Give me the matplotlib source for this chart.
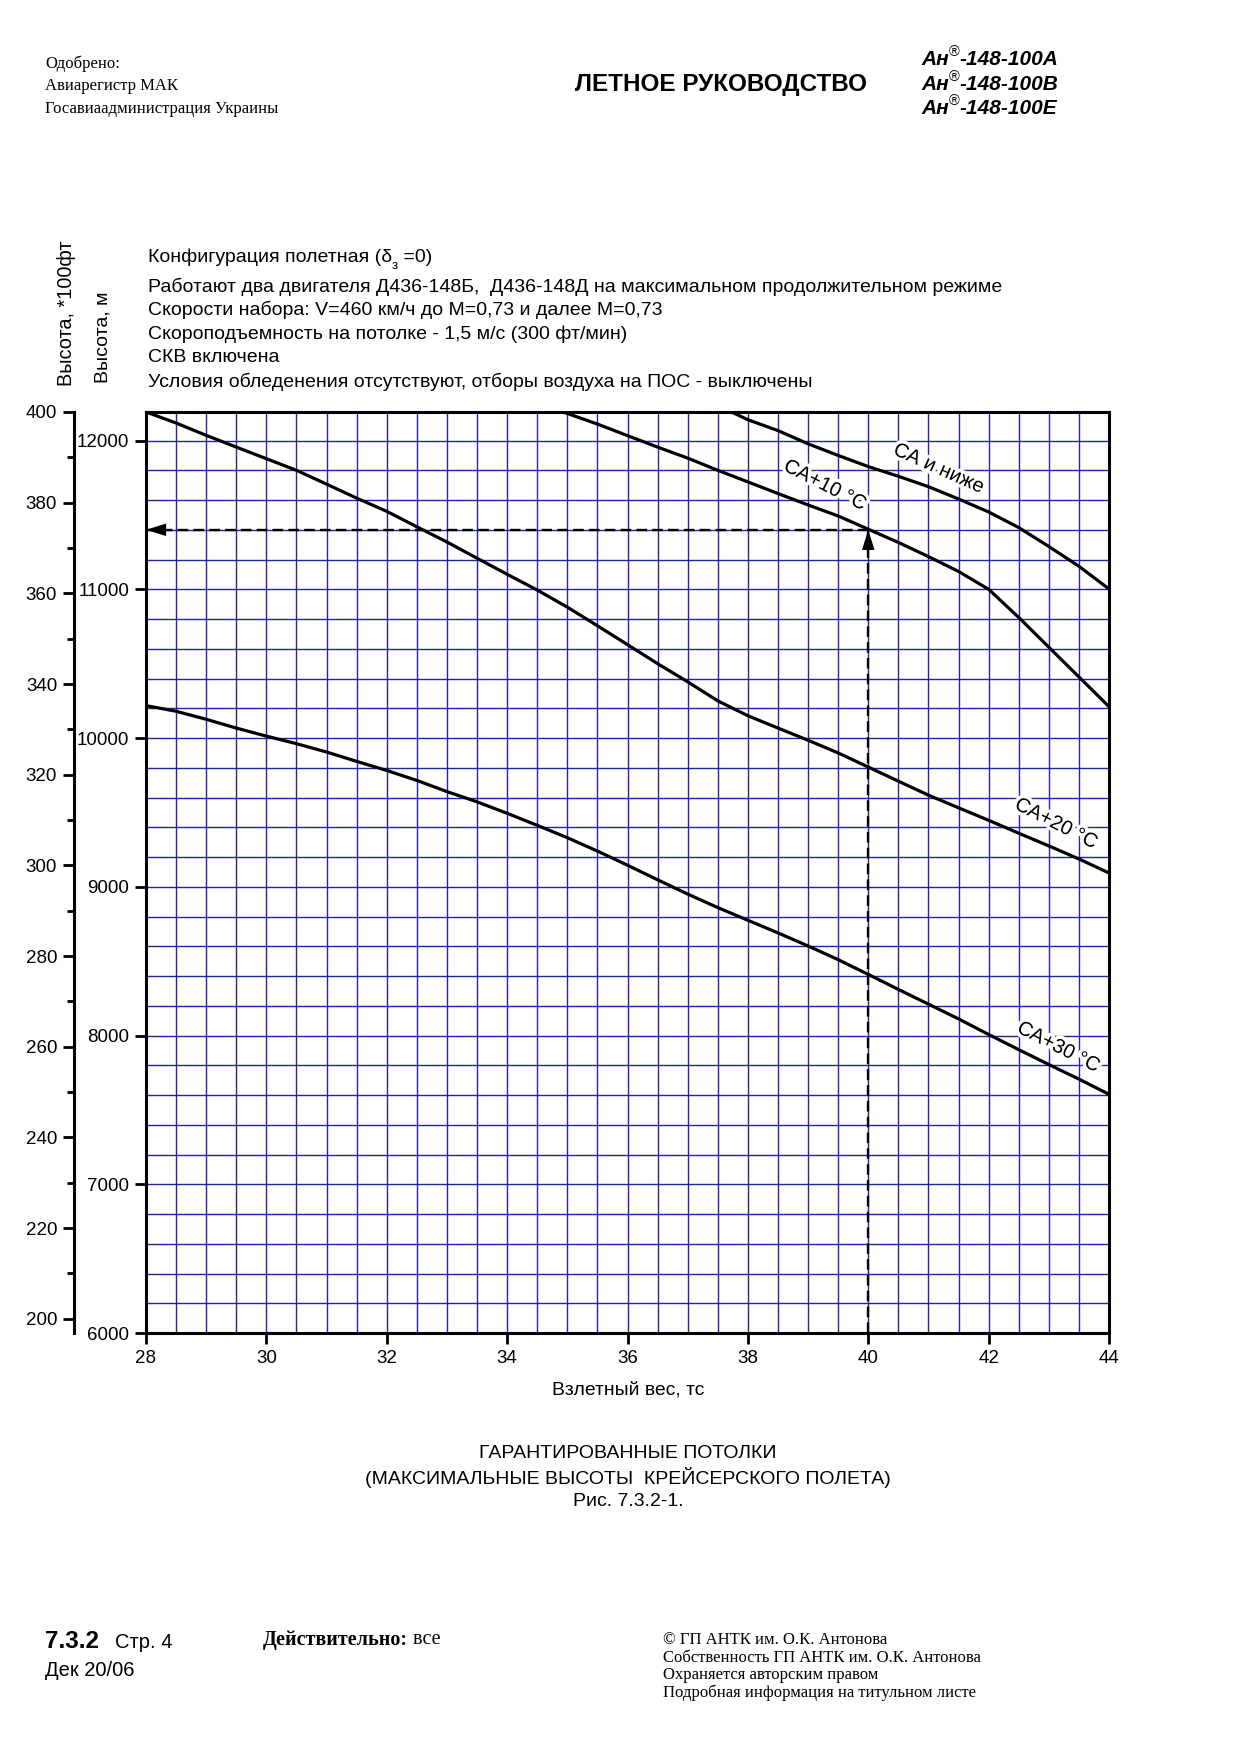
import matplotlib
matplotlib.use('Agg')
import matplotlib.pyplot as plt
import matplotlib.patheffects as pe
import numpy as np

plt.rcParams['font.family'] = ['Liberation Sans', 'DejaVu Sans']

# ---------------- data (take-off weight, t  ->  ceiling, m) ----------------
isa_w = [37.73, 38.0, 38.5, 39.0, 39.5, 40.0, 40.5, 41.0, 41.5, 42.0, 42.5, 43.0, 43.5, 44.0]
isa_h = [12192, 12140, 12067, 11978, 11900, 11825, 11760, 11690, 11607, 11520, 11415, 11288, 11155, 11002]

isa10_w = [34.93, 35.5, 36.0, 36.5, 37.0, 37.5, 38.0, 38.5, 39.0, 39.5, 40.0, 40.5, 41.0, 41.5,
           42.0, 42.5, 43.0, 43.5, 44.0]
isa10_h = [12192, 12111, 12033, 11956, 11882, 11800, 11722, 11644, 11567, 11493, 11404, 11315, 11220,
           11120, 11000, 10811, 10611, 10411, 10211]

isa20_w = [28.0, 28.5, 29.0, 29.5, 30.0, 30.5, 31.0, 31.5, 32.0, 32.5, 33.0, 33.5, 34.0, 34.5, 35.0,
           35.5, 36.0, 36.5, 37.0, 37.5, 38.0, 38.5, 39.0, 39.5, 40.0, 40.5, 41.0, 41.5, 42.0, 42.5,
           43.0, 43.5, 44.0]
isa20_h = [12192, 12118, 12035, 11956, 11878, 11800, 11707, 11613, 11524, 11420, 11318, 11209, 11101,
           10995, 10880, 10755, 10628, 10500, 10378, 10250, 10150, 10067, 9985, 9900, 9805, 9710,
           9616, 9531, 9447, 9360, 9275, 9187, 9093]

isa30_w = [28.0, 28.5, 29.0, 29.5, 30.0, 30.5, 31.0, 31.5, 32.0, 32.5, 33.0, 33.5, 34.0, 34.5, 35.0,
           35.5, 36.0, 36.5, 37.0, 37.5, 38.0, 38.5, 39.0, 39.5, 40.0, 40.5, 41.0, 41.5, 42.0, 42.5,
           43.0, 43.5, 44.0]
isa30_h = [10218, 10180, 10126, 10067, 10013, 9962, 9906, 9843, 9782, 9715, 9640, 9571, 9494, 9413,
           9330, 9240, 9145, 9047, 8951, 8860, 8775, 8690, 8602, 8510, 8411, 8310, 8211, 8112, 8007,
           7905, 7805, 7707, 7605]

curve_labels = ['СА и ниже', 'СА+10 °С', 'СА+20 °С', 'СА+30 °С']

ref_weight = 40.0
ref_height = 11400

x_ticks = [28, 30, 32, 34, 36, 38, 40, 42, 44]
m_ticks = [6000, 7000, 8000, 9000, 10000, 11000, 12000]
ft_ticks = [200, 220, 240, 260, 280, 300, 320, 340, 360, 380, 400]

info_lines = [
    'Работают два двигателя Д436-148Б,  Д436-148Д на максимальном продолжительном режиме',
    'Скорости набора: V=460 км/ч до М=0,73 и далее М=0,73',
    'Скороподъемность на потолке - 1,5 м/с (300 фт/мин)',
    'СКВ включена',
    'Условия обледенения отсутствуют, отборы воздуха на ПОС - выключены',
]

# ---------------- figure ----------------
W, H = 1240, 1755
fig = plt.figure(figsize=(W / 100, H / 100), dpi=100)

# page overlay in pixel coordinates
bg = fig.add_axes([0, 0, 1, 1])
bg.set_xlim(0, W)
bg.set_ylim(H, 0)
bg.axis('off')

L, R, T, B = 146, 1109, 412, 1333
rect = [L / W, 1 - B / H, (R - L) / W, (B - T) / H]
ax = fig.add_axes(rect)
ax.set_xlim(28, 44)
ax.set_ylim(6000, 12192)
ax.set_xticks(x_ticks)
ax.set_xticks(np.arange(28, 44.01, 0.5), minor=True)
ax.set_yticks(m_ticks)
ax.set_yticks(np.arange(6000, 12192, 200), minor=True)
ax.grid(which='both', color='#2222a6', lw=1.0)
ax.set_axisbelow(True)
ax.tick_params(which='minor', length=0)
ax.tick_params(which='major', direction='out', length=8, width=2, labelsize=13.5, pad=4)
for s in ax.spines.values():
    s.set_linewidth(2.2)
    s.set_zorder(5)

# feet scale
ax2 = fig.add_axes(rect)
ax2.patch.set_visible(False)
ax2.xaxis.set_visible(False)
ax2.set_ylim(6000 / 30.48, 12192 / 30.48)
for s in ['right', 'top', 'bottom']:
    ax2.spines[s].set_visible(False)
ax2.spines['left'].set_position(('outward', 52))
ax2.spines['left'].set_linewidth(2.2)
ax2.set_yticks(ft_ticks)
ax2.set_yticks(np.arange(210, 400, 20), minor=True)
ax2.tick_params(which='major', direction='out', length=8, width=2, labelsize=13.5, pad=4)
ax2.tick_params(which='minor', direction='out', length=5, width=2)

# curves
lw = 2.3
for w, h in [(isa_w, isa_h), (isa10_w, isa10_h), (isa20_w, isa20_h), (isa30_w, isa30_h)]:
    ax.plot(w, h, color='black', lw=lw, zorder=3, solid_joinstyle='round')

# curve labels
halo = [pe.withStroke(linewidth=5, foreground='white')]
label_pos = [(41.17, 11812, -24), (39.28, 11700, -27), (43.12, 9425, -27), (43.16, 7922, -27)]
for txt, (lx, ly, rot) in zip(curve_labels, label_pos):
    ax.text(lx, ly, txt, rotation=rot, rotation_mode='anchor', ha='center', va='center',
            fontsize=14.5, zorder=2.5, path_effects=halo)

# example (dashed lines with arrows)
dash_kw = dict(color='black', lw=1.7, dashes=(4.5, 2.2), zorder=4)
ax.plot([ref_weight, ref_weight], [6000, ref_height], **dash_kw)
ax.plot([28, ref_weight], [ref_height, ref_height], **dash_kw)
arrow_kw = dict(arrowstyle='-|>,head_length=1.45,head_width=0.45', color='black', lw=0,
                mutation_scale=10, shrinkA=0, shrinkB=0)
ax.annotate('', xy=(ref_weight, ref_height), xytext=(0, -20), textcoords='offset points',
            arrowprops=arrow_kw, zorder=6)
ax.annotate('', xy=(28, ref_height), xytext=(20, 0), textcoords='offset points',
            arrowprops=arrow_kw, zorder=6, annotation_clip=False)

# axis titles
bg.text(628, 1390, 'Взлетный вес, тс', ha='center', va='center', fontsize=13.9)
bg.text(67, 386, 'Высота, *100фт', rotation=90, ha='center', va='bottom', fontsize=14.3)
bg.text(103, 383, 'Высота, м', rotation=90, ha='center', va='bottom', fontsize=14.0)

# condition block
t1 = bg.text(148, 262, 'Конфигурация полетная (δ', ha='left', va='baseline', fontsize=14)
t2 = bg.annotate('з', xy=(1, 0), xycoords=t1, ha='left', va='center', fontsize=9.5)
bg.annotate(' =0)', xy=(1, 0), xycoords=(t2, t1), ha='left', va='bottom', fontsize=14)
for i, line in enumerate(info_lines):
    bg.text(148, 286.5 + i * 23.8, line, ha='left', va='center', fontsize=14)

# header
serif = ['Liberation Serif', 'DejaVu Serif']
for i, line in enumerate(['Одобрено:', 'Авиарегистр МАК', 'Госавиаадминистрация Украины']):
    bg.text(45, 64 + i * 22.3, line, ha='left', va='center', fontsize=12, family=serif)
bg.text(575, 84, 'ЛЕТНОЕ РУКОВОДСТВО', ha='left', va='center', fontsize=17.5, fontweight='bold')
for i, suf in enumerate(['A', 'B', 'E']):
    y = 59.5 + i * 24.5
    a1 = bg.text(921, y, 'Ан', ha='left', va='center', fontsize=15, fontweight='bold', style='italic')
    a2 = bg.annotate('®', xy=(1, 0.5), xycoords=a1, ha='left', va='bottom', fontsize=10.5)
    bg.annotate('-148-100' + suf, xy=(1, 0.5), xycoords=(a2, a1), ha='left', va='center',
                fontsize=15, fontweight='bold', style='italic')

# caption
for i, line in enumerate(['ГАРАНТИРОВАННЫЕ ПОТОЛКИ', '(МАКСИМАЛЬНЫЕ ВЫСОТЫ  КРЕЙСЕРСКОГО ПОЛЕТА)',
                          'Рис. 7.3.2-1.']):
    bg.text(628, 1453 + i * 24, line, ha='center', va='center', fontsize=14)

# footer
bg.text(45, 1642, '7.3.2', ha='left', va='center', fontsize=17.5, fontweight='bold')
bg.text(115, 1643, 'Стр. 4', ha='left', va='center', fontsize=14.5)
bg.text(45, 1671, 'Дек 20/06', ha='left', va='center', fontsize=14.5)
d1 = bg.text(263, 1640, 'Действительно:', ha='left', va='center', fontsize=14.5, fontweight='bold',
             family=serif)
bg.annotate(' все', xy=(1, 0.5), xycoords=d1, ha='left', va='center', fontsize=14.5, family=serif)
for i, line in enumerate(['© ГП АНТК им. О.К. Антонова', 'Собственность ГП АНТК им. О.К. Антонова',
                          'Охраняется авторским правом', 'Подробная информация на титульном листе']):
    bg.text(663, 1640 + i * 17.5, line, ha='left', va='center', fontsize=12, family=serif)

fig.savefig('out.png', dpi=100)
